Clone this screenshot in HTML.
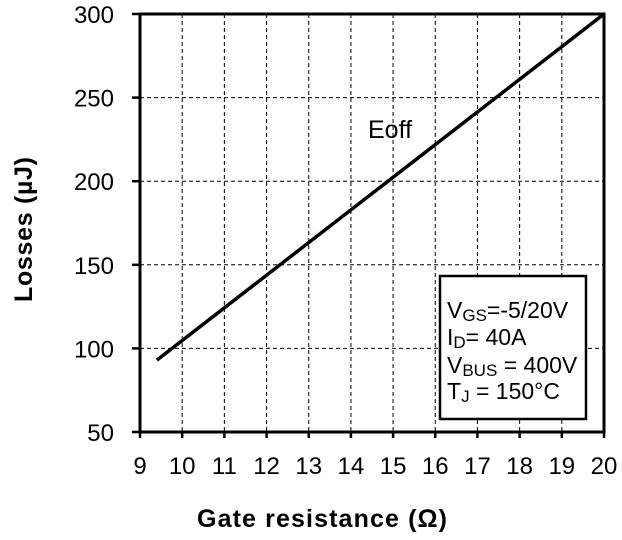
<!DOCTYPE html>
<html><head><meta charset="utf-8"><style>
body{margin:0;background:#fff;width:622px;height:535px;overflow:hidden}
text{font-family:"Liberation Sans",Arial,sans-serif;fill:#000}
</style></head><body>
<svg id="chart" width="622" height="535">
<g id="grid"></g>
<g id="ticks"></g>
<polyline id="line" fill="none" stroke="#000" stroke-width="3.5"/>
<rect x="140" y="14" width="464" height="418" fill="none" stroke="#000" stroke-width="3"/>
<text x="368" y="138" font-size="25">Eoff</text>
<g>
<rect x="440" y="276" width="146" height="143" fill="#fff" stroke="#000" stroke-width="2.5"/>
<text x="447" y="318" font-size="23">V<tspan font-size="17" dy="3">GS</tspan><tspan dy="-3">=-5/20V</tspan></text>
<text x="447" y="345" font-size="23">I<tspan font-size="17" dy="3">D</tspan><tspan dy="-3">= 40A</tspan></text>
<text x="447" y="373" font-size="23">V<tspan font-size="17" dy="3">BUS</tspan><tspan dy="-3"> = 400V</tspan></text>
<text x="447" y="399" font-size="23">T<tspan font-size="17" dy="3">J</tspan><tspan dy="-3"> = 150°C</tspan></text>
</g>
<text x="197" y="527" font-size="25" font-weight="bold" textLength="250" lengthAdjust="spacing">Gate resistance  (Ω)</text>
<text transform="translate(32,302) rotate(-90)" font-size="25" font-weight="bold" textLength="145" lengthAdjust="spacing">Losses  (µJ)</text>
</svg>
<script>
const xTicks=[9,10,11,12,13,14,15,16,17,18,19,20];
const yTicks=[50,100,150,200,250,300];
const seriesX=[9.4,20];
const seriesY=[93,300];
const X=v=>140+(v-9)*(464/11);
const Y=v=>432-(v-50)*(418/250);
const ns="http://www.w3.org/2000/svg";
const grid=document.getElementById('grid'),ticks=document.getElementById('ticks');
function ln(g,x1,y1,x2,y2,w,dash){const l=document.createElementNS(ns,'line');
l.setAttribute('x1',x1);l.setAttribute('y1',y1);l.setAttribute('x2',x2);l.setAttribute('y2',y2);
l.setAttribute('stroke','#000');l.setAttribute('stroke-width',w);if(dash)l.setAttribute('stroke-dasharray',dash);g.appendChild(l);return l;}
function tx(x,y,s,anchor){const t=document.createElementNS(ns,'text');t.setAttribute('x',x);t.setAttribute('y',y);
t.setAttribute('font-size','24');t.setAttribute('text-anchor',anchor);t.textContent=s;ticks.appendChild(t);return t;}
xTicks.forEach(v=>{const x=X(v);
if(v>9&&v<20){const g=ln(grid,x,14,x,432,1,'4,3');

}
const t=ln(ticks,x,432,x,438,2.5);


const l=tx(x,474,String(v),'middle');

});
yTicks.forEach(v=>{const y=Y(v);
if(v>50&&v<300){const g=ln(grid,140,y,604,y,1,'4,3');

}
const t=ln(ticks,132,y,140,y,2.5);


const l=tx(114,y+9,String(v),'end');

});
document.getElementById('line').setAttribute('points',seriesX.map((v,i)=>X(v)+','+Y(seriesY[i])).join(' '));
</script>
</body></html>
